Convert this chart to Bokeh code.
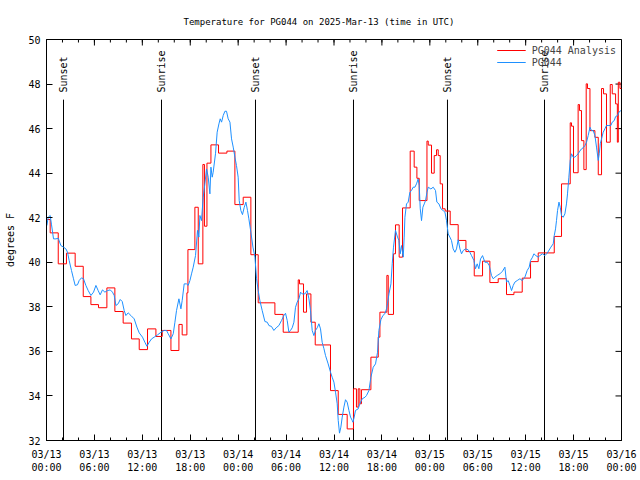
import math
from bokeh.plotting import figure
from bokeh.models import Range1d, FixedTicker, Legend, LegendItem, ColumnDataSource
from bokeh.core.properties import value
from bokeh.embed import file_html
from bokeh.resources import INLINE

# ---------------- data (hours since 2025-03-13 00:00 UTC, degrees F) ----------------
TITLE = "Temperature for PG044 on 2025-Mar-13 (time in UTC)"

x_major = [0, 6, 12, 18, 24, 30, 36, 42, 48, 54, 60, 66, 72]
x_labels = ["03/13\n00:00", "03/13\n06:00", "03/13\n12:00", "03/13\n18:00",
            "03/14\n00:00", "03/14\n06:00", "03/14\n12:00", "03/14\n18:00",
            "03/15\n00:00", "03/15\n06:00", "03/15\n12:00", "03/15\n18:00",
            "03/16\n00:00"]
x_minor = list(range(0, 73, 2))
y_major = [32, 34, 36, 38, 40, 42, 44, 46, 48, 50]

event_hours = [2.13, 14.40, 26.17, 38.44, 50.21, 62.36]
event_labels = ["Sunset", "Sunrise", "Sunset", "Sunrise", "Sunset", "Sunrise"]

# Analysis (step series)
red_hours = [0, 0.46, 1.47, 2.50, 3.59, 4.60, 5.56, 6.51, 7.56, 8.56, 9.60, 10.64,
             11.61, 12.65, 13.70, 14.49, 15.58, 16.58, 16.99, 17.58, 17.71, 18.58,
             19.00, 19.58, 19.78, 20.09, 20.59, 21.54, 22.59, 23.59, 24.63, 25.59,
             26.51, 28.60, 29.64, 31.52, 31.68, 32.18, 32.56, 33.11, 33.65, 35.56,
             36.53, 37.65, 38.44, 38.81, 39.03, 39.24, 39.44, 40.62, 41.54, 41.75,
             42.62, 42.79, 43.45, 43.70, 44.16, 44.58, 45.54, 46.04, 46.38, 46.67,
             47.64, 47.80, 48.21, 48.55, 48.84, 49.05, 49.30, 49.59, 49.92, 50.55,
             51.55, 52.52, 53.56, 54.60, 55.52, 56.56, 57.60, 58.53, 59.57, 60.61,
             61.57, 63.58, 64.49, 65.58, 65.74, 65.99, 66.57, 66.74, 66.99, 67.29,
             67.58, 67.74, 68.05, 68.67, 69.09, 69.50, 69.75, 70.12, 70.59, 70.84,
             71.26, 71.48, 71.60, 71.81]
red_temp = [41.92, 41.32, 39.93, 40.41, 39.82, 38.46, 38.10, 37.96, 38.85, 37.79,
            37.27, 36.56, 36.08, 37.01, 36.67, 36.94, 36.04, 37.21, 36.74, 38.63,
            40.57, 42.47, 39.93, 44.39, 41.62, 44.45, 45.27, 44.90, 44.99, 42.59,
            42.92, 40.34, 38.18, 37.66, 36.86, 39.21, 39.03, 37.76, 38.58, 37.31,
            36.29, 34.24, 33.17, 32.52, 34.32, 33.50, 34.32, 33.65, 34.28, 35.74,
            36.64, 37.76, 39.41, 37.66, 40.38, 41.68, 40.23, 42.44, 44.99, 44.27,
            43.77, 42.77, 45.44, 45.26, 44.00, 44.79, 45.05, 44.79, 43.52, 42.40,
            42.30, 41.69, 40.98, 40.48, 39.39, 40.05, 39.09, 39.26, 38.55, 38.66,
            39.29, 40.03, 40.42, 41.16, 43.52, 46.26, 46.11, 44.02, 47.08, 46.81,
            45.46, 44.16, 48.01, 47.80, 45.91, 45.61, 43.93, 47.80, 47.56, 45.39,
            47.98, 47.56, 47.11, 45.39, 48.08, 47.80]

# Observations
blue_hours = [0.05, 0.21, 0.46, 0.63, 0.88, 1.18, 1.47, 1.80, 2.13, 2.43, 2.63, 2.84,
              3.13, 3.38, 3.59, 3.88, 4.09, 4.38, 4.63, 4.93, 5.22, 5.56, 5.89, 6.19,
              6.47, 6.72, 7.01, 7.31, 7.64, 7.98, 8.26, 8.48, 8.69, 8.98, 9.23, 9.48,
              9.73, 9.94, 10.23, 10.57, 10.98, 11.32, 11.61, 12.02, 12.32, 12.57,
              12.86, 13.15, 13.49, 13.90, 14.33, 14.74, 15.03, 15.24, 15.58, 15.87,
              16.08, 16.28, 16.58, 16.83, 16.99, 17.24, 17.53, 17.74, 17.96, 18.16,
              18.37, 18.66, 18.91, 19.08, 19.21, 19.41, 19.62, 19.83, 20.04, 20.25,
              20.46, 20.59, 20.75, 20.87, 21.16, 21.37, 21.59, 21.75, 21.92, 22.13,
              22.34, 22.54, 22.75, 22.97, 23.17, 23.38, 23.59, 23.79, 24.00, 24.13,
              24.34, 24.54, 24.76, 24.97, 25.17, 25.34, 25.59, 25.85, 26.10, 26.30,
              26.51, 26.72, 27.01, 27.35, 27.64, 27.85, 28.17, 28.47, 28.76, 29.10,
              29.43, 29.73, 29.93, 30.14, 30.35, 30.55, 30.77, 30.98, 31.18, 31.39,
              31.61, 31.81, 32.02, 32.36, 32.64, 32.86, 33.06, 33.27, 33.48, 33.68,
              33.90, 34.11, 34.31, 34.52, 34.74, 34.94, 35.27, 35.56, 35.77, 35.99,
              36.19, 36.40, 36.53, 36.69, 36.86, 37.03, 37.24, 37.44, 37.65, 37.87,
              38.07, 38.28, 38.37, 38.53, 38.69, 39.03, 39.24, 39.53, 39.87, 40.07,
              40.37, 40.62, 40.91, 41.20, 41.45, 41.62, 41.87, 42.12, 42.37, 42.58,
              42.70, 42.88, 43.13, 43.29, 43.45, 43.70, 43.95, 44.13, 44.29, 44.45,
              44.67, 44.79, 44.88, 45.08, 45.29, 45.50, 45.70, 45.91, 46.13, 46.33,
              46.54, 46.67, 46.80, 46.96, 47.13, 47.30, 47.46, 47.64, 47.80, 48.13,
              48.42, 48.71, 48.88, 49.14, 49.39, 49.67, 49.89, 50.09, 50.30, 50.51,
              50.71, 50.92, 51.14, 51.34, 51.55, 51.77, 51.97, 52.18, 52.47, 52.80,
              53.01, 53.22, 53.52, 53.72, 53.93, 54.14, 54.35, 54.60, 54.90, 55.19,
              55.44, 55.72, 55.94, 56.15, 56.44, 56.77, 57.10, 57.40, 57.60, 57.81,
              58.03, 58.23, 58.44, 58.65, 58.94, 59.28, 59.57, 59.90, 60.19, 60.44,
              60.61, 60.86, 61.03, 61.28, 61.57, 61.78, 62.11, 62.41, 62.70, 63.16,
              63.45, 63.58, 63.74, 63.86, 63.99, 64.17, 64.33, 64.49, 64.70, 64.91,
              65.11, 65.24, 65.41, 65.58, 65.74, 65.95, 66.16, 66.36, 66.57, 66.78,
              66.99, 67.20, 67.42, 67.62, 67.83, 68.05, 68.25, 68.46, 68.67, 68.87,
              69.09, 69.21, 69.34, 69.50, 69.71, 69.92, 70.12, 70.42, 70.67, 70.84,
              71.09, 71.26, 71.51, 71.68, 71.93]
blue_temp = [41.65, 42.02, 42.10, 41.68, 41.05, 41.05, 41.08, 40.75, 40.68, 40.60,
             40.45, 40.08, 39.63, 39.26, 38.96, 38.99, 39.18, 39.30, 39.26, 38.96,
             38.73, 38.51, 38.66, 38.96, 38.73, 38.54, 38.76, 38.66, 38.73, 38.76,
             38.66, 38.51, 38.06, 38.14, 38.33, 38.24, 37.83, 37.61, 37.73, 37.61,
             37.46, 37.09, 36.83, 36.64, 36.41, 36.23, 36.41, 36.56, 36.64, 36.74,
             36.86, 36.94, 36.94, 36.79, 36.56, 36.79, 37.31, 37.83, 38.36, 37.91,
             38.28, 39.03, 39.03, 38.96, 39.18, 39.48, 39.78, 40.30, 41.43, 41.13,
             42.10, 41.87, 42.92, 43.52, 44.19, 43.82, 43.07, 44.27, 43.82, 44.04,
             44.87, 45.84, 46.21, 46.44, 46.29, 46.59, 46.78, 46.78, 46.44, 46.29,
             45.54, 45.17, 44.72, 44.34, 43.82, 42.77, 42.32, 42.14, 42.47, 42.70,
             42.32, 41.95, 41.35, 40.68, 40.23, 39.26, 38.73, 38.28, 37.83, 37.34,
             37.31, 37.16, 37.12, 36.94, 37.06, 37.16, 37.39, 37.61, 37.71, 37.39,
             36.86, 36.94, 37.06, 37.31, 37.98, 38.21, 38.36, 38.66, 38.58, 38.58,
             38.73, 38.36, 37.83, 36.94, 36.71, 36.94, 37.06, 37.24, 37.01, 36.41,
             36.12, 35.81, 35.44, 35.07, 34.84, 34.62, 34.17, 33.65, 32.90, 32.33,
             32.60, 33.05, 33.50, 33.83, 33.72, 33.35, 33.05, 32.90, 32.82, 33.05,
             33.35, 33.42, 33.65, 33.87, 33.94, 34.02, 34.24, 34.84, 35.29, 35.44,
             35.96, 36.94, 37.42, 37.61, 37.69, 37.91, 38.14, 38.58, 39.03, 39.93,
             40.68, 41.43, 41.13, 40.98, 40.38, 40.75, 40.23, 41.13, 42.02, 42.62,
             42.70, 43.14, 43.22, 43.37, 43.37, 43.52, 43.74, 43.44, 42.40, 41.87,
             42.47, 42.62, 42.77, 43.14, 43.37, 43.29, 43.37, 43.22, 42.70, 42.62,
             42.40, 42.32, 42.25, 41.87, 41.27, 41.13, 40.98, 40.60, 40.45, 40.60,
             41.01, 40.60, 40.38, 40.53, 40.60, 40.56, 40.45, 40.30, 40.08, 39.71,
             39.93, 39.71, 40.15, 40.30, 40.00, 40.00, 39.85, 39.41, 39.26, 39.33,
             39.41, 39.48, 39.60, 39.78, 39.11, 39.18, 38.96, 38.73, 38.96, 39.11,
             39.18, 39.26, 39.18, 39.33, 39.63, 39.78, 40.08, 40.23, 40.38, 40.30,
             40.23, 40.30, 40.38, 40.30, 40.41, 40.68, 40.83, 41.20, 41.50, 41.87,
             42.32, 42.70, 42.47, 42.10, 42.02, 42.17, 42.62, 43.07, 43.82, 44.57,
             44.87, 44.72, 44.72, 44.79, 44.87, 44.99, 45.09, 45.14, 45.24, 45.39,
             45.69, 46.06, 45.91, 45.91, 45.69, 45.17, 44.57, 44.87, 45.32, 45.54,
             45.84, 45.99, 46.14, 46.14, 46.14, 46.29, 46.36, 46.54, 46.59, 46.74,
             46.81]

# ---------------- styling ----------------
FONT = "DejaVu Sans Mono"
RED = "#ff0000"
BLUE = "#1e90ff"
X_START, X_END = 0, 72
Y_START, Y_END = 32, 50
EVENT_LINE_TOP = 47.3
EVENT_LABEL_Y = 47.62
MAJOR_TICK = 6
MINOR_TICK = 3

n_r = min(len(red_hours), len(red_temp))
n_b = min(len(blue_hours), len(blue_temp))

p = figure(width=640, height=480, output_backend="svg", toolbar_location=None,
           x_range=Range1d(X_START, X_END), y_range=Range1d(Y_START, Y_END),
           title=TITLE, min_border_left=46, min_border_right=19,
           min_border_top=39, min_border_bottom=40)
p.xgrid.visible = False
p.ygrid.visible = False
p.outline_line_color = "black"
p.outline_line_width = 1
p.background_fill_color = "white"
p.border_fill_color = "white"

p.title.text_font = FONT
p.title.text_font_size = "9px"
p.title.text_font_style = "normal"
p.title.text_color = "black"
p.title.align = "left"
p.title.offset = 137
p.title.standoff = 26

xt = FixedTicker(ticks=x_major, minor_ticks=x_minor)
yt = FixedTicker(ticks=y_major, minor_ticks=[])

def style_axis(ax, standoff):
    ax.axis_line_color = "black"
    ax.major_tick_line_color = "black"
    ax.minor_tick_line_color = "black"
    ax.major_tick_in = MAJOR_TICK
    ax.major_tick_out = 0
    ax.minor_tick_in = MINOR_TICK
    ax.minor_tick_out = 0
    ax.major_label_text_font = FONT
    ax.major_label_text_font_size = "10px"
    ax.major_label_text_color = "black"
    ax.major_label_standoff = standoff

xa = p.xaxis[0]
xa.ticker = xt
xa.major_label_overrides = {h: lab for h, lab in zip(x_major, x_labels)}
style_axis(xa, 8)

ya = p.yaxis[0]
ya.ticker = yt
style_axis(ya, 6)
ya.axis_label = "degrees F"
ya.axis_label_text_font = FONT
ya.axis_label_text_font_size = "10px"
ya.axis_label_text_font_style = "normal"
ya.axis_label_text_color = "black"
ya.axis_label_standoff = 9

# mirrored tick marks on the top and right edges (derived from the tick lists)
p.ray(x=x_minor, y=[Y_END] * len(x_minor), length=MINOR_TICK, angle=-math.pi / 2,
      length_units="screen", line_color="black", line_width=1)
p.ray(x=x_major, y=[Y_END] * len(x_major), length=MAJOR_TICK, angle=-math.pi / 2,
      length_units="screen", line_color="black", line_width=1)
p.ray(x=[X_END] * len(y_major), y=y_major, length=MAJOR_TICK, angle=math.pi,
      length_units="screen", line_color="black", line_width=1)

# sunrise / sunset markers
ev = ColumnDataSource(dict(x=event_hours, y0=[Y_START] * len(event_hours),
                           y1=[EVENT_LINE_TOP] * len(event_hours),
                           ly=[EVENT_LABEL_Y] * len(event_hours), text=event_labels))
p.segment(x0="x", y0="y0", x1="x", y1="y1", source=ev, line_color="black", line_width=1)
p.text(x="x", y="ly", text="text", source=ev, angle=math.pi / 2,
       text_align="left", text_baseline="middle", text_font=value(FONT),
       text_font_size="10px", text_color="black")

# series
rx = list(red_hours[:n_r]) + [X_END]
ry = list(red_temp[:n_r]) + [red_temp[n_r - 1]]
r_red = p.step(rx, ry, mode="after", line_color=RED, line_width=1)
r_blue = p.line(blue_hours[:n_b], blue_temp[:n_b], line_color=BLUE, line_width=1)

legend = Legend(items=[LegendItem(label="PG044 Analysis", renderers=[r_red]),
                       LegendItem(label="PG044", renderers=[r_blue])],
                location="top_right", margin=3, padding=2, spacing=0,
                glyph_width=29, glyph_height=12, label_height=12,
                label_standoff=6, border_line_alpha=0, background_fill_alpha=0,
                label_text_font=FONT, label_text_font_size="10px")
p.add_layout(legend)

open("out.html", "w").write(file_html(p, INLINE))
